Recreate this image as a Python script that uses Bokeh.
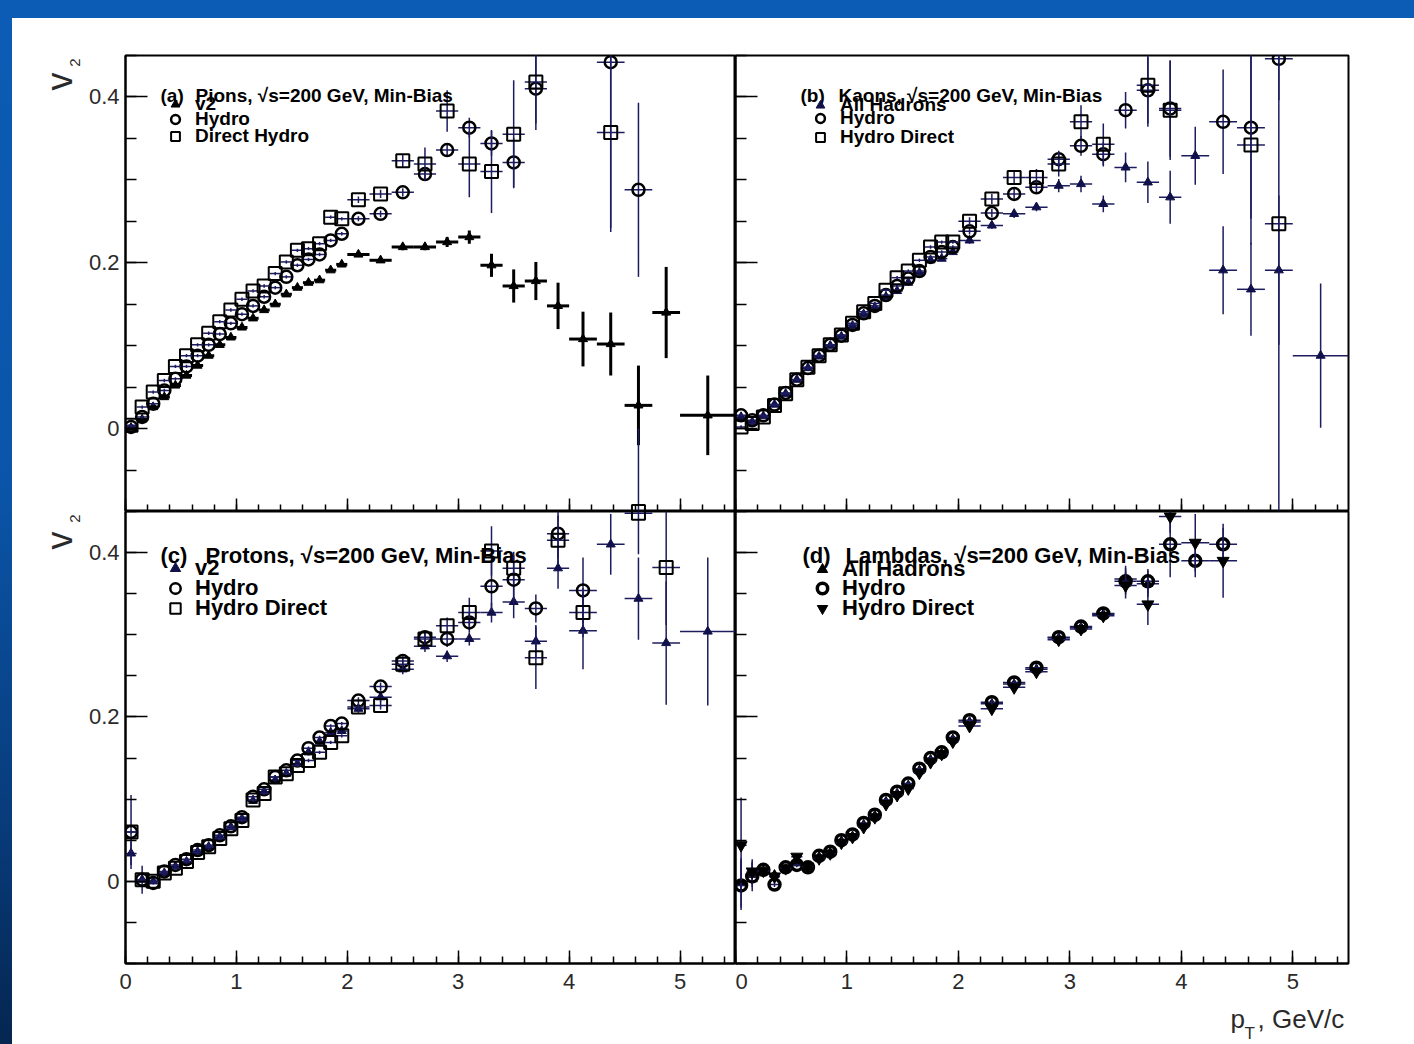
import numpy as np
from bokeh.plotting import figure
from bokeh.models import ColumnDataSource, FixedTicker, Label, Legend, LegendItem, Spacer
from bokeh.layouts import column, row
from bokeh.embed import file_html
from bokeh.resources import INLINE

# ---------------------------------------------------------------- data
# transverse momentum bin centres (GeV/c)
pt_low = [0.05, 0.15, 0.25, 0.35, 0.45, 0.55, 0.65, 0.75, 0.85, 0.95,
          1.05, 1.15, 1.25, 1.35, 1.45, 1.55, 1.65, 1.75, 1.85, 1.95]
pt_high = [2.1, 2.3, 2.5, 2.7, 2.9, 3.1, 3.3, 3.5, 3.7, 3.9,
           4.125, 4.375, 4.625, 4.875, 5.25]

# (a) pions
pion_data_pt = pt_low + pt_high
pion_data_v2 = [0.001, 0.011, 0.026, 0.038, 0.052, 0.064, 0.076, 0.088, 0.101, 0.110,
                0.122, 0.133, 0.143, 0.150, 0.162, 0.170, 0.176, 0.179, 0.191, 0.198,
                0.210, 0.203, 0.219, 0.219, 0.225, 0.231, 0.197, 0.172, 0.178, 0.148,
                0.108, 0.102, 0.028, 0.140, 0.016]
pion_data_err = [0.002] * 20 + [0.003, 0.003, 0.004, 0.004, 0.006, 0.008, 0.014, 0.020,
                                0.023, 0.028, 0.033, 0.038, 0.048, 0.055, 0.048]
pion_hydro_pt = pt_low + [2.1, 2.3, 2.5, 2.7, 2.9, 3.1, 3.3, 3.5, 3.7, 4.375, 4.625]
pion_hydro_v2 = [0.002, 0.014, 0.030, 0.046, 0.060, 0.075, 0.088, 0.101, 0.114, 0.127,
                 0.138, 0.148, 0.159, 0.170, 0.183, 0.197, 0.204, 0.210, 0.227, 0.235,
                 0.253, 0.259, 0.285, 0.307, 0.336, 0.363, 0.344, 0.321, 0.410, 0.442, 0.288]
pion_hydro_err = [0.002] * 20 + [0.003, 0.004, 0.005, 0.006, 0.008, 0.012, 0.015, 0.030,
                                 0.050, 0.200, 0.105]
pion_direct_pt = pt_low + [2.1, 2.3, 2.5, 2.7, 2.9, 3.1, 3.3, 3.5, 3.7, 4.375, 4.625]
pion_direct_v2 = [0.004, 0.026, 0.044, 0.058, 0.075, 0.088, 0.101, 0.115, 0.129, 0.143,
                  0.156, 0.166, 0.172, 0.187, 0.201, 0.215, 0.217, 0.223, 0.255, 0.253,
                  0.276, 0.283, 0.323, 0.319, 0.383, 0.319, 0.310, 0.355, 0.418, 0.357, -0.100]
pion_direct_err = [0.002] * 20 + [0.004, 0.005, 0.008, 0.020, 0.025, 0.040, 0.050, 0.065,
                                  0.050, 0.120, 0.100]

# (b) kaons
kaon_data_pt = pt_low + pt_high
kaon_data_v2 = [0.014, 0.008, 0.015, 0.029, 0.042, 0.059, 0.073, 0.087, 0.100, 0.111,
                0.124, 0.138, 0.146, 0.159, 0.166, 0.176, 0.188, 0.203, 0.205, 0.213,
                0.227, 0.245, 0.259, 0.267, 0.293, 0.295, 0.271, 0.315, 0.297, 0.279,
                0.329, 0.191, 0.168, 0.191, 0.088]
kaon_data_err = [0.003] * 20 + [0.004, 0.004, 0.005, 0.005, 0.008, 0.010, 0.010, 0.018,
                                0.025, 0.032, 0.035, 0.053, 0.056, 0.090, 0.087]
kaon_hydro_pt = pt_low + [2.1, 2.3, 2.5, 2.7, 2.9, 3.1, 3.3, 3.5, 3.7, 3.9, 4.375, 4.625, 4.875]
kaon_hydro_v2 = [0.016, 0.010, 0.016, 0.029, 0.043, 0.059, 0.073, 0.088, 0.101, 0.112,
                 0.125, 0.139, 0.148, 0.161, 0.172, 0.181, 0.190, 0.207, 0.213, 0.219,
                 0.238, 0.260, 0.283, 0.291, 0.325, 0.341, 0.331, 0.384, 0.408, 0.386,
                 0.370, 0.363, 0.446]
kaon_hydro_err = [0.002] * 20 + [0.004, 0.005, 0.006, 0.008, 0.010, 0.012, 0.015, 0.022,
                                 0.040, 0.058, 0.063, 0.110, 0.050]
kaon_direct_pt = pt_low + [2.1, 2.3, 2.5, 2.7, 2.9, 3.1, 3.3, 3.7, 3.9, 4.625, 4.875]
kaon_direct_v2 = [0.002, 0.006, 0.014, 0.028, 0.042, 0.059, 0.074, 0.088, 0.101, 0.113,
                  0.127, 0.141, 0.151, 0.167, 0.182, 0.190, 0.203, 0.219, 0.225, 0.225,
                  0.250, 0.277, 0.303, 0.303, 0.319, 0.370, 0.343, 0.414, 0.384, 0.342, 0.247]
kaon_direct_err = [0.002] * 20 + [0.005, 0.006, 0.008, 0.010, 0.015, 0.020, 0.025, 0.050,
                                  0.060, 0.120, 0.350]

# (c) protons
proton_data_pt = pt_low + pt_high
proton_data_v2 = [0.034, 0.002, 0.000, 0.010, 0.018, 0.024, 0.036, 0.042, 0.054, 0.066,
                  0.076, 0.098, 0.109, 0.123, 0.131, 0.143, 0.157, 0.170, 0.181, 0.183,
                  0.210, 0.224, 0.258, 0.286, 0.274, 0.295, 0.327, 0.340, 0.292, 0.381,
                  0.305, 0.410, 0.344, 0.290, 0.304]
proton_data_err = [0.014, 0.017] + [0.003] * 18 + [0.005, 0.006, 0.006, 0.007, 0.007, 0.008,
                                                   0.012, 0.020, 0.020, 0.025, 0.047, 0.037,
                                                   0.050, 0.075, 0.090]
proton_hydro_pt = pt_low + [2.1, 2.3, 2.5, 2.7, 2.9, 3.1, 3.3, 3.5, 3.7, 3.9, 4.125]
proton_hydro_v2 = [0.060, 0.002, -0.002, 0.012, 0.020, 0.027, 0.038, 0.044, 0.056, 0.067,
                   0.078, 0.103, 0.112, 0.127, 0.135, 0.147, 0.162, 0.175, 0.189, 0.192,
                   0.220, 0.237, 0.268, 0.297, 0.295, 0.315, 0.359, 0.367, 0.332, 0.423, 0.354]
proton_hydro_err = [0.045] + [0.002] * 19 + [0.004, 0.005, 0.006, 0.008, 0.010, 0.012,
                                             0.030, 0.030, 0.017, 0.030, 0.040]
proton_direct_pt = pt_low + [2.1, 2.3, 2.5, 2.7, 2.9, 3.1, 3.3, 3.5, 3.7, 3.9, 4.125, 4.625, 4.875]
proton_direct_v2 = [0.060, 0.002, 0.000, 0.010, 0.016, 0.024, 0.035, 0.042, 0.052, 0.064,
                    0.074, 0.099, 0.107, 0.127, 0.131, 0.141, 0.147, 0.157, 0.169, 0.177,
                    0.212, 0.214, 0.264, 0.295, 0.311, 0.327, 0.402, 0.381, 0.272, 0.415,
                    0.327, 0.448, 0.382]
proton_direct_err = [0.002] * 20 + [0.004, 0.005, 0.006, 0.008, 0.010, 0.018, 0.030, 0.020,
                                    0.038, 0.030, 0.030, 0.050, 0.070]

# (d) lambdas
lambda_data_pt = pt_low + [2.1, 2.3, 2.5, 2.7, 2.9, 3.1, 3.3, 3.5, 3.7]
lambda_data_v2 = [-0.002, 0.008, 0.013, 0.008, 0.015, 0.022, 0.017, 0.030, 0.035, 0.049,
                  0.055, 0.069, 0.080, 0.097, 0.107, 0.117, 0.135, 0.148, 0.156, 0.173,
                  0.194, 0.216, 0.240, 0.258, 0.296, 0.309, 0.325, 0.368, 0.362]
lambda_data_err = [0.030, 0.015] + [0.004] * 18 + [0.005] * 6 + [0.008, 0.016, 0.016]
lambda_hydro_pt = pt_low + [2.1, 2.3, 2.5, 2.7, 2.9, 3.1, 3.3, 3.5, 3.7, 3.9, 4.125, 4.375]
lambda_hydro_v2 = [-0.005, 0.006, 0.014, -0.004, 0.017, 0.020, 0.017, 0.031, 0.036, 0.050,
                   0.057, 0.071, 0.081, 0.099, 0.109, 0.119, 0.137, 0.150, 0.157, 0.175,
                   0.196, 0.218, 0.242, 0.260, 0.297, 0.310, 0.326, 0.365, 0.365, 0.410,
                   0.390, 0.410]
lambda_hydro_err = [0.030, 0.018] + [0.003] * 18 + [0.004, 0.004, 0.005, 0.005, 0.006, 0.006,
                                                    0.007, 0.016, 0.015, 0.040, 0.020, 0.020]
lambda_direct_pt = pt_low + [2.1, 2.3, 2.5, 2.7, 2.9, 3.1, 3.3, 3.5, 3.7, 3.9, 4.125, 4.375]
lambda_direct_v2 = [0.044, 0.012, 0.013, 0.006, 0.016, 0.030, 0.018, 0.028, 0.034, 0.047,
                    0.054, 0.066, 0.078, 0.094, 0.105, 0.113, 0.132, 0.145, 0.155, 0.170,
                    0.189, 0.210, 0.236, 0.255, 0.294, 0.307, 0.323, 0.360, 0.337, 0.444,
                    0.412, 0.390]
lambda_direct_err = [0.058, 0.015] + [0.003] * 18 + [0.004] * 7 + [0.016, 0.025, 0.020, 0.035, 0.045]

x_major = [0, 1, 2, 3, 4, 5]
y_major = [0, 0.2, 0.4]
y_labels = {0: "0", 0.2: "0.2", 0.4: "0.4"}

# ---------------------------------------------------------------- style
FONT = "Liberation Sans"
ERR_NAVY = "#1c1c5e"
AXIS_TEXT = "#2a2a2a"
X_RANGE = (0, 5.5)
Y_RANGE = (-0.1, 0.45)


def bin_half_width(pt):
    return [0.05 if x < 2 else 0.1 if x < 4 else 0.125 if x < 5 else 0.25 for x in pt]


def make_panel(top, left_labels, bottom_labels):
    p = figure(frame_width=610 if left_labels else 613,
               frame_height=456 if top else 452,
               x_range=X_RANGE, y_range=Y_RANGE,
               min_border_left=41 if left_labels else 0,
               min_border_right=0 if left_labels else 66,
               min_border_top=37 if top else 0,
               min_border_bottom=0 if top else 37,
               toolbar_location=None, output_backend="svg",
               background_fill_color="white", border_fill_color="white")
    p.outline_line_color = "black"
    p.outline_line_width = 2
    p.xgrid.grid_line_color = None
    p.ygrid.grid_line_color = None

    xa = p.xaxis[0]
    xa.ticker = FixedTicker(ticks=x_major, minor_ticks=[round(0.2 * i, 1) for i in range(28)])
    xa.major_tick_in, xa.major_tick_out = 13, 0
    xa.minor_tick_in, xa.minor_tick_out = 7, 0
    ya = p.yaxis[0]
    ya.ticker = FixedTicker(ticks=y_major, minor_ticks=[round(-0.1 + 0.05 * i, 2) for i in range(12)])
    ya.major_tick_in, ya.major_tick_out = 22, 0
    ya.minor_tick_in, ya.minor_tick_out = 11, 0
    ya.major_label_overrides = y_labels
    for ax in (xa, ya):
        ax.axis_line_color = "black"
        ax.axis_line_width = 2
        ax.major_tick_line_color = "black"
        ax.minor_tick_line_color = "black"
        ax.major_tick_line_width = 1.5
        ax.minor_tick_line_width = 1.5
        ax.major_label_text_font = FONT
        ax.major_label_text_font_size = "22px"
        ax.major_label_text_color = AXIS_TEXT
    ya.major_label_standoff = 6
    xa.major_label_standoff = 10
    if not left_labels:
        ya.major_label_text_color = None
    if not bottom_labels:
        xa.major_label_text_color = None
    return p


def draw(p, pt, v2, err, marker, size, line_width, fill, err_color, err_width, line_color="black"):
    x = np.array(pt, dtype=float)
    y = np.array(v2, dtype=float)
    e = np.array(err, dtype=float)
    h = np.array(bin_half_width(pt))
    src = ColumnDataSource(dict(x=x, y=y, x0=x - h, x1=x + h, y0=y - e, y1=y + e))
    p.segment("x0", "y", "x1", "y", source=src, line_color=err_color, line_width=err_width)
    p.segment("x", "y0", "x", "y1", source=src, line_color=err_color, line_width=err_width)
    return p.scatter("x", "y", source=src, marker=marker, size=size, line_color=line_color,
                     line_width=line_width, fill_color=fill)


def add_legend(p, entries, x, row_centres, font_size, box):
    # one single-entry legend per row, so that rows may sit closer than the text height
    for (lab, r), yc in zip(entries, row_centres):
        lg = Legend(items=[LegendItem(label=lab, renderers=[r])],
                    location=(x, yc - box / 2), padding=0, margin=0,
                    border_line_color=None, background_fill_alpha=0,
                    glyph_width=30, glyph_height=box, label_height=box, spacing=0,
                    label_standoff=5, label_text_font=FONT, label_text_font_style="bold",
                    label_text_font_size=font_size, label_text_color="black")
        p.add_layout(lg)


def add_title(p, tag, text, x_tag, x_text, y, font_size):
    for t, x in ((tag, x_tag), (text, x_text)):
        p.add_layout(Label(x=x, y=y, x_units="screen", y_units="screen", text=t,
                           text_font=FONT, text_font_style="bold", text_font_size=font_size,
                           text_color="black", text_baseline="alphabetic"))


# ---------------------------------------------------------------- (a) pions
pa = make_panel(top=True, left_labels=True, bottom_labels=False)
ra1 = draw(pa, pion_data_pt, pion_data_v2, pion_data_err, "triangle", 9, 1, "black", "black", 3)
ra2 = draw(pa, pion_hydro_pt, pion_hydro_v2, pion_hydro_err, "circle", 12, 2.5, None, ERR_NAVY, 1.5)
ra3 = draw(pa, pion_direct_pt, pion_direct_v2, pion_direct_err, "square", 13, 2, None, ERR_NAVY, 1.5)
add_legend(pa, [("v2", ra1), ("Hydro", ra2), ("Direct Hydro", ra3)], 35, [407, 392, 375], "19px", 22)
add_title(pa, "(a)", "Pions, \u221As=200 GeV, Min-Bias", 35, 70, 416, "19px")

# ---------------------------------------------------------------- (b) kaons
pb = make_panel(top=True, left_labels=False, bottom_labels=False)
rb1 = draw(pb, kaon_data_pt, kaon_data_v2, kaon_data_err, "triangle", 9, 1, "#10104a", ERR_NAVY, 1.5, "#10104a")
rb2 = draw(pb, kaon_hydro_pt, kaon_hydro_v2, kaon_hydro_err, "circle", 12, 2.5, None, ERR_NAVY, 1.5)
rb3 = draw(pb, kaon_direct_pt, kaon_direct_v2, kaon_direct_err, "square", 13, 2, None, ERR_NAVY, 1.5)
add_legend(pb, [("All Hadrons", rb1), ("Hydro", rb2), ("Hydro Direct", rb3)], 70, [406, 393, 374], "19px", 22)
add_title(pb, "(b)", "Kaons, \u221As=200 GeV, Min-Bias", 65, 103, 416, "19px")

# ---------------------------------------------------------------- (c) protons
pc = make_panel(top=False, left_labels=True, bottom_labels=True)
rc1 = draw(pc, proton_data_pt, proton_data_v2, proton_data_err, "triangle", 9, 1, "#10104a", ERR_NAVY, 1.5, "#10104a")
rc2 = draw(pc, proton_hydro_pt, proton_hydro_v2, proton_hydro_err, "circle", 12, 2.5, None, ERR_NAVY, 1.5)
rc3 = draw(pc, proton_direct_pt, proton_direct_v2, proton_direct_err, "square", 13, 2, None, ERR_NAVY, 1.5)
add_legend(pc, [("v2", rc1), ("Hydro", rc2), ("Hydro Direct", rc3)], 35, [395, 375, 355], "22px", 26)
add_title(pc, "(c)", "Protons, \u221As=200 GeV, Min-Bias", 35, 80, 408, "22px")

# ---------------------------------------------------------------- (d) lambdas
pd_ = make_panel(top=False, left_labels=False, bottom_labels=True)
rd1 = draw(pd_, lambda_data_pt, lambda_data_v2, lambda_data_err, "triangle", 9, 1, "black", ERR_NAVY, 1.5)
rd2 = draw(pd_, lambda_hydro_pt, lambda_hydro_v2, lambda_hydro_err, "circle", 11, 3.5, None, ERR_NAVY, 1.5)
rd3 = draw(pd_, lambda_direct_pt, lambda_direct_v2, lambda_direct_err, "inverted_triangle", 12, 1, "black", ERR_NAVY, 1.5)
add_legend(pd_, [("All Hadrons", rd1), ("Hydro", rd2), ("Hydro Direct", rd3)], 72, [394, 375, 355], "22px", 26)
add_title(pd_, "(d)", "Lambdas, \u221As=200 GeV, Min-Bias", 67, 110, 408, "22px")


# ---------------------------------------------------------------- axis titles
def text_strip(width, height):
    s = figure(width=width, height=height, x_range=(0, 1), y_range=(0, 1),
               x_axis_location=None, y_axis_location=None, toolbar_location=None,
               min_border=0, output_backend="svg", outline_line_color=None,
               background_fill_color="white", border_fill_color="white")
    s.xgrid.grid_line_color = None
    s.ygrid.grid_line_color = None
    return s


# vertical strip left of the panels carrying the v2 titles
v_strip = text_strip(72, 1026)
for (xv, yv), (xs, ys) in (((47, 963), (62, 982)), ((47, 504), (62, 526))):
    v_strip.add_layout(Label(x=xv, y=yv, x_units="screen", y_units="screen", text="v",
                             angle=90, angle_units="deg", text_font=FONT, text_font_size="36px",
                             text_color=AXIS_TEXT, text_align="center", text_baseline="middle"))
    v_strip.add_layout(Label(x=xs, y=ys, x_units="screen", y_units="screen", text="2",
                             angle=90, angle_units="deg", text_font=FONT, text_font_size="15px",
                             text_color=AXIS_TEXT, text_align="center", text_baseline="middle"))

# horizontal strip below the panels carrying the pT title
p_strip = text_strip(1330, 44)
for txt, x, y, fs in (("p", 1146, 26, "26px"), ("T", 1160, 11, "17px"), (", GeV/c", 1173, 26, "26px")):
    p_strip.add_layout(Label(x=x, y=y, x_units="screen", y_units="screen", text=txt,
                             text_font=FONT, text_font_size=fs, text_color=AXIS_TEXT,
                             text_baseline="alphabetic"))

# ---------------------------------------------------------------- page
panels = column(row(pa, pb, spacing=0), row(pc, pd_, spacing=0), p_strip, spacing=0)
top_band = Spacer(width=1414, height=18, styles={"background-color": "#0c5cb5"})
side_band = Spacer(width=12, height=1026, styles={
    "background": "linear-gradient(to bottom, #0c5cb5 0%, #0a55a9 45%, #083a78 80%, #052650 100%)"})
page = column(top_band, row(side_band, v_strip, panels, spacing=0), spacing=0)

open("out.html", "w").write(file_html(page, INLINE))
